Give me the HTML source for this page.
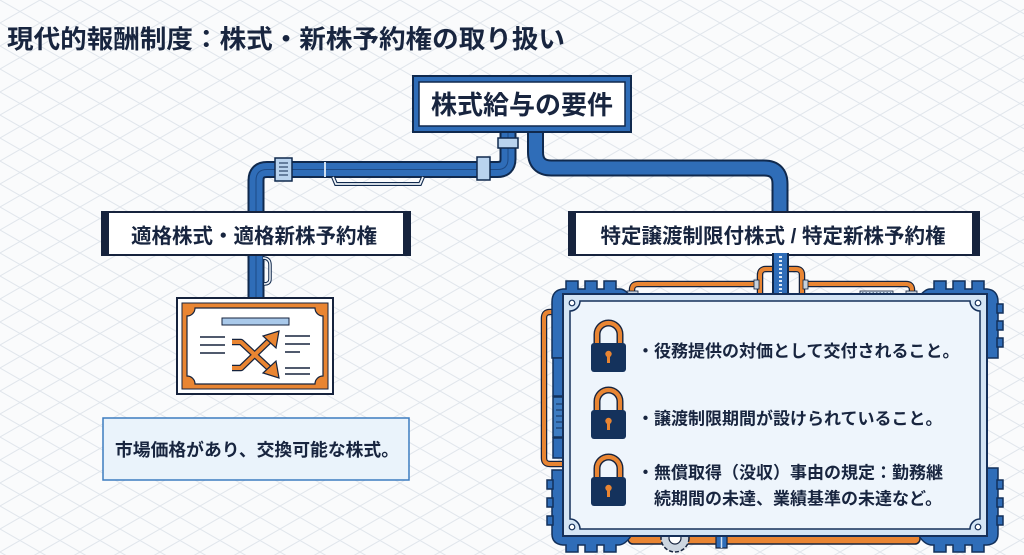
<!DOCTYPE html>
<html><head><meta charset="utf-8"><style>
html,body{margin:0;padding:0;width:1024px;height:555px;overflow:hidden;background:#fafbfc}
svg{display:block}
text{font-family:"Liberation Sans","Noto Sans CJK JP",sans-serif;font-weight:bold;fill:#18253f}
</style></head><body>
<svg width="1024" height="555" viewBox="0 0 1024 555" xmlns="http://www.w3.org/2000/svg">
<defs>
<pattern id="grid" width="40" height="23" patternUnits="userSpaceOnUse">
<path d="M0 0 L40 23 M0 23 L40 0" stroke="#e1e6ec" stroke-width="1" fill="none"/>
</pattern>
</defs>
<rect width="1024" height="555" fill="#fafbfc"/>
<rect width="1024" height="555" fill="url(#grid)"/>

<!-- Title -->
<text x="7" y="48" font-size="25.5" textLength="558" lengthAdjust="spacingAndGlyphs">現代的報酬制度：株式・新株予約権の取り扱い</text>

<!-- Pipes -->
<g fill="none" stroke-linejoin="round">
<path d="M508 133 L508 159 Q508 169.5 497.5 169.5 L267 169.5 Q256 169.5 256 180.5 L256 214" stroke="#10294d" stroke-width="17"/>
<path d="M508 133 L508 159 Q508 169.5 497.5 169.5 L267 169.5 Q256 169.5 256 180.5 L256 214" stroke="#2f6db8" stroke-width="13"/>
<path d="M508 133 L508 159 Q508 169.5 497.5 169.5 L267 169.5 Q256 169.5 256 180.5 L256 214" stroke="#1d4a86" stroke-width="1"/>
<path d="M535.5 133 L535.5 152 Q535.5 168 551.5 168 L764 168 Q780 168 780 184 L780 214" stroke="#10294d" stroke-width="17"/>
<path d="M535.5 133 L535.5 152 Q535.5 168 551.5 168 L764 168 Q780 168 780 184 L780 214" stroke="#2f6db8" stroke-width="13"/>
<path d="M256 253 L256 300" stroke="#10294d" stroke-width="17"/>
<path d="M256 253 L256 300" stroke="#2f6db8" stroke-width="13"/>
<path d="M256 253 L256 300" stroke="#1d4a86" stroke-width="1"/>
</g>
<!-- couplings -->
<rect x="498" y="138" width="20" height="10" fill="#b9d3ee" stroke="#10294d" stroke-width="1.5"/>
<rect x="477" y="157" width="13" height="23" fill="#b9d3ee" stroke="#10294d" stroke-width="1.5"/>
<rect x="275" y="158" width="17" height="23" fill="#b9d3ee" stroke="#10294d" stroke-width="1.5"/>
<path d="M279 163 L288 163 M279 167 L288 167 M279 171 L288 171 M279 175 L288 175" stroke="#10294d" stroke-width="1"/>
<path d="M325 162 L325 177" stroke="#cfe0f2" stroke-width="2"/>
<path d="M333 177 L336 184 L420 184 L423 177" fill="none" stroke="#10294d" stroke-width="4"/>
<path d="M333 177 L336 184 L420 184 L423 177" fill="none" stroke="#eef3f8" stroke-width="1.8"/>
<path d="M263 258 Q270 258 270 265 L270 279 Q270 284 264 284" fill="none" stroke="#10294d" stroke-width="3.5"/>
<path d="M263 258 Q270 258 270 265 L270 279 Q270 284 264 284" fill="none" stroke="#eef3f8" stroke-width="1.5"/>

<!-- Top box -->
<rect x="413" y="76" width="218" height="56" fill="#2f6db8" stroke="#10294d" stroke-width="2"/>
<rect x="419" y="82" width="206" height="44" fill="#ffffff" stroke="#10294d" stroke-width="1.5"/>
<text x="522" y="114" font-size="26" text-anchor="middle">株式給与の要件</text>

<!-- Left label -->
<rect x="102" y="212" width="308" height="43" fill="#ffffff" stroke="#16233d" stroke-width="2"/>
<rect x="102" y="212" width="7" height="43" fill="#16233d"/>
<rect x="403" y="212" width="7" height="43" fill="#16233d"/>
<text x="254" y="243" font-size="20.5" text-anchor="middle">適格株式・適格新株予約権</text>

<!-- Certificate -->
<rect x="177" y="298" width="156" height="96" fill="#ffffff" stroke="#16233d" stroke-width="2"/>
<rect x="182" y="303" width="146" height="86" fill="#e98532" stroke="#16233d" stroke-width="1"/>
<path d="M195 308 L315 308 A8 8 0 0 0 323 316 L323 376 A8 8 0 0 0 315 384 L195 384 A8 8 0 0 0 187 376 L187 316 A8 8 0 0 0 195 308 Z" fill="#ffffff" stroke="#16233d" stroke-width="1.2"/>
<rect x="222" y="318" width="67" height="7" fill="#a9c9ea" stroke="#16233d" stroke-width="1"/>
<path d="M200 337 L225 337 M200 345 L225 345 M200 353 L225 353 M285 336 L310 336 M285 344 L310 344 M285 352 L300 352 M285 368 L310 368 M285 374 L310 374" stroke="#16233d" stroke-width="1.6"/>
<g fill="none" stroke-linejoin="round">
<path d="M232 342 L241 342 L270 369" stroke="#16233d" stroke-width="6.5"/>
<path d="M232 368 L241 368 L270 340" stroke="#16233d" stroke-width="6.5"/>
<path d="M232 342 L241 342 L270 369" stroke="#e98532" stroke-width="4"/>
<path d="M232 368 L241 368 L270 340" stroke="#e98532" stroke-width="4"/>
</g>
<polygon points="279,331 276,348 263,336" fill="#e98532" stroke="#16233d" stroke-width="1.2"/>
<polygon points="279,378 276,361 263,373" fill="#e98532" stroke="#16233d" stroke-width="1.2"/>

<!-- Description box -->
<rect x="103" y="418" width="306" height="62" fill="#eaf3fb" stroke="#3d7cc0" stroke-width="1.5"/>
<text x="115" y="456" font-size="17.8" textLength="284" lengthAdjust="spacingAndGlyphs">市場価格があり、交換可能な株式。</text>

<!-- Right label -->
<rect x="569" y="212" width="410" height="43" fill="#ffffff" stroke="#16233d" stroke-width="2"/>
<rect x="569" y="212" width="7" height="43" fill="#16233d"/>
<rect x="972" y="212" width="7" height="43" fill="#16233d"/>
<text x="773" y="243" font-size="20.5" text-anchor="middle">特定譲渡制限付株式 / 特定新株予約権</text>

<!-- Orange pipes (behind frame) -->
<g fill="none" stroke-linejoin="round">
<path d="M632 297 L632 290 Q632 284 638 284 L757 284" stroke="#16233d" stroke-width="6.5"/>
<path d="M760 297 L760 275 Q760 269 766 269 L796 269 Q802 269 802 275 L802 297" stroke="#16233d" stroke-width="6.5"/>
<path d="M802 284 L906 284 Q912 284 912 290 L912 297" stroke="#16233d" stroke-width="6.5"/>
<path d="M563 312 L550 312 Q544 312 544 318 L544 458 Q544 464 550 464 L563 464" stroke="#16233d" stroke-width="6.5"/>
<path d="M632 297 L632 290 Q632 284 638 284 L757 284" stroke="#e98532" stroke-width="4"/>
<path d="M760 297 L760 275 Q760 269 766 269 L796 269 Q802 269 802 275 L802 297" stroke="#e98532" stroke-width="4"/>
<path d="M802 284 L906 284 Q912 284 912 290 L912 297" stroke="#e98532" stroke-width="4"/>
<path d="M563 312 L550 312 Q544 312 544 318 L544 458 Q544 464 550 464 L563 464" stroke="#e98532" stroke-width="4"/>
</g>
<rect x="754" y="280" width="5" height="9" fill="#c8d2dd" stroke="#16233d" stroke-width="0.8"/>
<rect x="803" y="280" width="5" height="9" fill="#c8d2dd" stroke="#16233d" stroke-width="0.8"/>
<rect x="627" y="291" width="11" height="5" fill="#c8d2dd" stroke="#16233d" stroke-width="0.8"/>
<rect x="906" y="291" width="11" height="5" fill="#c8d2dd" stroke="#16233d" stroke-width="0.8"/>
<rect x="860" y="291" width="33" height="5" fill="#cfe1f3" stroke="#16233d" stroke-width="0.8"/>
<path d="M862 293.5 L891 293.5" stroke="#16233d" stroke-width="2" stroke-dasharray="1.5 2"/>

<!-- bottom orange bar, small gear -->
<rect x="628" y="532" width="292" height="12" rx="5" fill="#e98532" stroke="#16233d" stroke-width="1.5"/>
<circle cx="675" cy="538" r="14" fill="#cdd6e0" stroke="#16233d" stroke-width="1.5" stroke-dasharray="4 2"/>
<circle cx="675" cy="538" r="6" fill="#ffffff" stroke="#16233d" stroke-width="1.2"/>
<rect x="716" y="532" width="11" height="16" fill="#2f6db8" stroke="#16233d" stroke-width="1.2"/>
<path d="M721.5 534 L721.5 548" stroke="#cfe1f3" stroke-width="1.5"/>

<!-- Gears -->
<g fill="#2f6db8" stroke="#12305a" stroke-width="1.5">
<path d="M552 358 L552 302 Q552 290 563 289 L566 289 L566 281 L578 281 L578 289 L585 289 L585 281 L597 281 L597 289 L604 289 L604 281 L616 281 L616 289 L620 289 Q625 289 631 297 L631 302 L566 302 L566 358 Z"/>
<rect x="553" y="358" width="12" height="38"/>
<rect x="553" y="397" width="12" height="40" fill="#3d7cc2"/>
<path d="M556 404 L562 404 M556 410 L562 410 M556 416 L562 416 M556 422 L562 422 M556 428 L562 428" stroke="#12305a" stroke-width="1"/>
<rect x="553" y="438" width="12" height="20"/>
<path d="M552 470 L566 470 L566 530 L631 530 L631 536 Q625 545 618 545 L616 545 L616 552 L604 552 L604 545 L597 545 L597 552 L585 552 L585 545 L578 545 L578 552 L566 552 L566 545 L563 545 Q552 544 552 534 Z"/>
<rect x="547" y="480" width="6" height="9"/>
<rect x="547" y="498" width="6" height="9"/>
<rect x="547" y="516" width="6" height="9"/>
</g>
<g fill="#2f6db8" stroke="#12305a" stroke-width="1.5" transform="translate(1550,0) scale(-1,1)">
<path d="M552 358 L552 302 Q552 290 563 289 L566 289 L566 281 L578 281 L578 289 L585 289 L585 281 L597 281 L597 289 L604 289 L604 281 L616 281 L616 289 L620 289 Q625 289 631 297 L631 302 L566 302 L566 358 Z"/>
<rect x="547" y="304" width="6" height="9"/>
<rect x="547" y="321" width="6" height="9"/>
<rect x="547" y="338" width="6" height="9"/>
<path d="M552 468 L566 468 L566 530 L631 530 L631 536 Q625 545 618 545 L616 545 L616 552 L604 552 L604 545 L597 545 L597 552 L585 552 L585 545 L578 545 L578 552 L566 552 L566 545 L563 545 Q552 544 552 534 Z"/>
<rect x="547" y="480" width="6" height="9"/>
<rect x="547" y="498" width="6" height="9"/>
<rect x="547" y="516" width="6" height="9"/>
</g>

<!-- Blue pipe into frame -->
<path d="M780.5 253 L780.5 297" stroke="#10294d" stroke-width="17" fill="none"/>
<path d="M780.5 253 L780.5 297" stroke="#2f6db8" stroke-width="13" fill="none"/>
<path d="M780.5 256 L780.5 296" stroke="#dce9f7" stroke-width="3" stroke-dasharray="2 2" fill="none"/>

<!-- Frame -->
<rect x="563" y="294" width="424" height="242" fill="#d4e5f5" stroke="#15305a" stroke-width="2"/>
<path d="M580 301 L970 301 A10 10 0 0 0 980 311 L980 519 A10 10 0 0 0 970 529 L580 529 A10 10 0 0 0 570 519 L570 311 A10 10 0 0 0 580 301 Z" fill="#eef5fc" stroke="#15305a" stroke-width="1.5"/>
<g fill="#ffffff" stroke="#15305a" stroke-width="1.2">
<circle cx="572" cy="303" r="2.8"/><circle cx="978" cy="303" r="2.8"/>
<circle cx="572" cy="527" r="2.8"/><circle cx="978" cy="527" r="2.8"/>
</g>

<!-- Locks -->
<g>
<g>
<path d="M597 344 L597 334.5 A11.5 11.5 0 0 1 620 334.5 L620 344" fill="none" stroke="#16233d" stroke-width="7"/>
<path d="M597 344 L597 334.5 A11.5 11.5 0 0 1 620 334.5 L620 344" fill="none" stroke="#e98532" stroke-width="4.2"/>
<rect x="591" y="343" width="35" height="29" rx="3" fill="#14325c"/>
<circle cx="608.5" cy="354" r="3.2" fill="#e98532"/><rect x="607" y="355" width="3" height="8" fill="#e98532"/>
</g>
<g transform="translate(0,67)">
<path d="M597 344 L597 334.5 A11.5 11.5 0 0 1 620 334.5 L620 344" fill="none" stroke="#16233d" stroke-width="7"/>
<path d="M597 344 L597 334.5 A11.5 11.5 0 0 1 620 334.5 L620 344" fill="none" stroke="#e98532" stroke-width="4.2"/>
<rect x="591" y="343" width="35" height="29" rx="3" fill="#14325c"/>
<circle cx="608.5" cy="354" r="3.2" fill="#e98532"/><rect x="607" y="355" width="3" height="8" fill="#e98532"/>
</g>
<g transform="translate(0,134)">
<path d="M597 344 L597 334.5 A11.5 11.5 0 0 1 620 334.5 L620 344" fill="none" stroke="#16233d" stroke-width="7"/>
<path d="M597 344 L597 334.5 A11.5 11.5 0 0 1 620 334.5 L620 344" fill="none" stroke="#e98532" stroke-width="4.2"/>
<rect x="591" y="343" width="35" height="29" rx="3" fill="#14325c"/>
<circle cx="608.5" cy="354" r="3.2" fill="#e98532"/><rect x="607" y="355" width="3" height="8" fill="#e98532"/>
</g>
</g>

<!-- Panel text -->
<text x="637" y="357" font-size="17">・役務提供の対価として交付されること。</text>
<text x="637" y="424.5" font-size="17">・譲渡制限期間が設けられていること。</text>
<text x="637" y="478.5" font-size="17">・無償取得（没収）事由の規定：勤務継</text>
<text x="654" y="504.5" font-size="17">続期間の未達、業績基準の未達など。</text>
</svg>
</body></html>
